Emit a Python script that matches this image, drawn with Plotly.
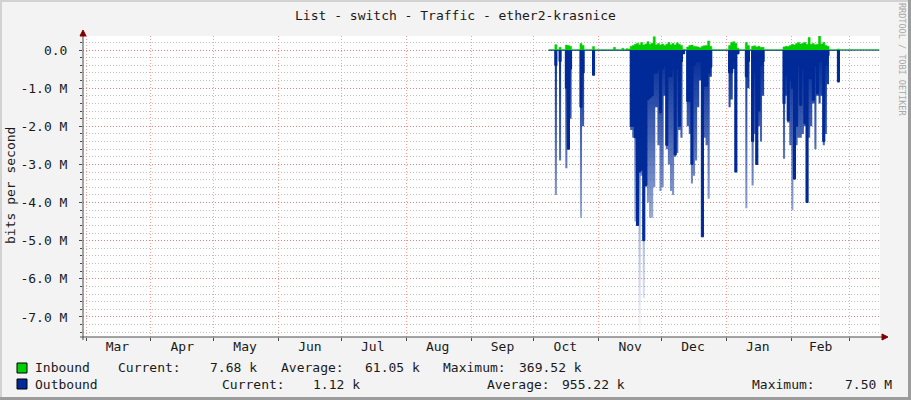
"""RRDtool-style yearly traffic graph for ether2-krasnice, redrawn with Plotly."""

import datetime as dt

import plotly.graph_objects as go

# ---- data: one value per day starting 2013-10-08, Mbit/s ----
start_day = dt.date(2013, 10, 8)

inbound_m = [
    0.005, 0.005, 0.005, 0.14, 0.01, 0.07, 0.005, 0.005, 0.13, 0.12,
    0.10, 0.005, 0.005, 0.005, 0.005, 0.17, 0.12, 0.005, 0.005, 0.005,
    0.005, 0.09, 0.005, 0.005, 0.005, 0.005, 0.005, 0.005, 0.005, 0.005,
    0.005, 0.07, 0.005, 0.005, 0.005, 0.045, 0.005, 0.035, 0.03, 0.10,
    0.12, 0.15, 0.18, 0.14, 0.20, 0.13, 0.16, 0.22, 0.15, 0.18,
    0.35, 0.14, 0.17, 0.13, 0.16, 0.12, 0.15, 0.20, 0.14, 0.17,
    0.13, 0.19, 0.15, 0.12, 0.02, 0.005, 0.08, 0.12, 0.13, 0.10,
    0.09, 0.08, 0.06, 0.10, 0.11, 0.12, 0.24, 0.10, 0.005, 0.005,
    0.005, 0.005, 0.005, 0.005, 0.005, 0.005, 0.12, 0.20, 0.22, 0.18,
    0.05, 0.005, 0.005, 0.005, 0.20, 0.12, 0.005, 0.10, 0.11, 0.08,
    0.10, 0.07, 0.07, 0.005, 0.005, 0.005, 0.005, 0.005, 0.005, 0.005,
    0.005, 0.005, 0.08, 0.10, 0.09, 0.12, 0.15, 0.13, 0.17, 0.20,
    0.16, 0.18, 0.20, 0.15, 0.33, 0.15, 0.17, 0.14, 0.15, 0.37,
    0.16, 0.20, 0.12, 0.10, 0.005, 0.005, 0.005, 0.005, 0.03, 0.008,
    0.008, 0.008, 0.008, 0.008, 0.008, 0.008, 0.008, 0.008, 0.008, 0.008,
    0.008, 0.008, 0.008, 0.008, 0.008, 0.008, 0.008, 0.008, 0.00768,
]

# outbound, daily average (drawn solid) and daily peak (drawn faded)
outbound_avg_m = [
    0.004, 0.004, 0.004, 0.40, 0.004, 0.30, 0.004, 0.004, 1.00, 2.60,
    0.50, 0.004, 0.004, 0.004, 0.004, 1.50, 0.60, 0.004, 0.004, 0.004,
    0.004, 0.66, 0.004, 0.004, 0.004, 0.004, 0.004, 0.004, 0.004, 0.004,
    0.004, 0.004, 0.004, 0.004, 0.004, 0.004, 0.004, 0.004, 0.004, 2.00,
    2.00, 2.30, 4.60, 3.20, 3.15, 5.00, 3.55, 1.30, 1.25, 1.20,
    0.60, 0.60, 0.50, 1.65, 0.50, 0.40, 2.50, 0.70, 0.70, 0.50,
    2.75, 0.50, 2.00, 0.30, 0.10, 0.004, 1.35, 1.35, 3.00, 0.40,
    0.30, 0.30, 0.30, 4.90, 0.95, 0.95, 0.60, 0.45, 0.004, 0.004,
    0.004, 0.004, 0.004, 0.004, 0.004, 0.004, 0.60, 0.60, 0.30, 3.20,
    0.10, 0.004, 0.004, 0.004, 0.70, 0.30, 0.004, 2.40, 0.60, 3.00,
    1.60, 0.40, 0.30, 0.004, 0.004, 0.004, 0.004, 0.004, 0.004, 0.004,
    0.004, 0.004, 1.40, 0.66, 1.85, 0.80, 1.00, 3.38, 2.00, 0.40,
    1.45, 0.50, 1.93, 4.00, 0.75, 0.75, 1.32, 0.40, 1.14, 0.30,
    0.30, 2.40, 0.40, 0.15, 0.004, 0.004, 0.004, 0.004, 0.83, 0.002,
    0.002, 0.002, 0.002, 0.002, 0.002, 0.002, 0.002, 0.002, 0.002, 0.002,
    0.002, 0.002, 0.002, 0.002, 0.002, 0.002, 0.002, 0.002, 0.00112,
]

outbound_max_m = [
    0.004, 0.004, 0.004, 3.80, 0.004, 2.90, 0.004, 0.004, 3.10, 2.60,
    1.80, 0.004, 0.004, 0.004, 0.004, 4.40, 2.00, 0.004, 0.004, 0.004,
    0.004, 0.66, 0.004, 0.004, 0.004, 0.004, 0.004, 0.004, 0.004, 0.004,
    0.004, 0.004, 0.004, 0.004, 0.004, 0.004, 0.004, 0.004, 0.004, 2.10,
    2.30, 4.50, 4.60, 7.50, 3.30, 6.50, 3.60, 4.00, 4.40, 4.40,
    3.60, 1.50, 2.50, 3.70, 3.60, 1.20, 2.60, 3.00, 3.70, 3.80,
    2.80, 2.70, 2.10, 2.30, 0.10, 0.004, 2.00, 2.20, 3.50, 3.30,
    2.90, 1.50, 0.80, 4.90, 2.30, 2.50, 3.90, 0.70, 0.004, 0.004,
    0.004, 0.004, 0.004, 0.004, 0.004, 0.004, 1.50, 1.30, 0.50, 3.20,
    0.10, 0.004, 0.004, 0.004, 4.15, 1.00, 0.004, 3.55, 2.20, 3.00,
    2.00, 2.40, 1.20, 0.004, 0.004, 0.004, 0.004, 0.004, 0.004, 0.004,
    0.004, 0.004, 2.85, 1.20, 1.90, 2.50, 4.20, 3.40, 2.50, 2.30,
    2.30, 2.20, 2.00, 4.00, 2.30, 2.00, 1.40, 2.60, 1.20, 1.40,
    1.20, 2.50, 2.20, 0.90, 0.004, 0.004, 0.004, 0.004, 0.85, 0.002,
    0.002, 0.002, 0.002, 0.002, 0.002, 0.002, 0.002, 0.002, 0.002, 0.002,
    0.002, 0.002, 0.002, 0.002, 0.002, 0.002, 0.002, 0.002, 0.00112,
]

y_tick_vals_m = [0, -1, -2, -3, -4, -5, -6, -7]
y_tick_text = ["0.0", "-1.0 M", "-2.0 M", "-3.0 M", "-4.0 M", "-5.0 M", "-6.0 M", "-7.0 M"]

month_starts = [
    "2013-03-01", "2013-04-01", "2013-05-01", "2013-06-01", "2013-07-01",
    "2013-08-01", "2013-09-01", "2013-10-01", "2013-11-01", "2013-12-01",
    "2014-01-01", "2014-02-01", "2014-03-01",
]
month_labels = ["Mar", "Apr", "May", "Jun", "Jul", "Aug", "Sep",
                "Oct", "Nov", "Dec", "Jan", "Feb"]

legend_inbound = ["Inbound", "Current:", "7.68 k", "Average:", "61.05 k", "Maximum:", "369.52 k"]
legend_outbound = ["Outbound", "Current:", "1.12 k", "Average:", "955.22 k", "Maximum:", "7.50 M"]

GREEN = "#00CF00"
BLUE = "#002A97"
FONT = "DejaVu Sans Mono"

# ---- geometry helpers (pixel -> paper) ----
W, H = 911, 400
L, R, T, B = 83, 31, 36, 63
PW, PH = W - L - R, H - T - B


def px(x):
    return (x - L) / PW


def py(y):
    return (H - B - y) / PH


days = [start_day + dt.timedelta(days=i) for i in range(len(inbound_m))]

# label each month at its middle, grid at month starts
starts = [dt.date.fromisoformat(s) for s in month_starts]
month_mids = [a + (b - a) / 2 for a, b in zip(starts[:-1], starts[1:])]

fig = go.Figure()

fig.add_trace(go.Scatter(
    x=days,
    y=[-v * 1e6 for v in outbound_max_m],
    mode="lines",
    line=dict(width=0, shape="hv", color=BLUE),
    fill="tozeroy",
    fillgradient=dict(
        type="vertical",
        start=-7.5e6,
        stop=0,
        colorscale=[
            [0.0, "rgba(0,42,151,0.03)"],
            [0.35, "rgba(0,42,151,0.32)"],
            [0.7, "rgba(0,42,151,0.72)"],
            [1.0, "rgba(0,42,151,1.0)"],
        ],
    ),
    hoverinfo="skip",
))

fig.add_trace(go.Scatter(
    x=days,
    y=[-v * 1e6 for v in outbound_avg_m],
    mode="lines",
    name="Outbound",
    line=dict(width=1, shape="hv", color=BLUE),
    fill="tozeroy",
    fillcolor=BLUE,
))

fig.add_trace(go.Scatter(
    x=days,
    y=[v * 1e6 for v in inbound_m],
    mode="lines",
    name="Inbound",
    line=dict(width=0.5, shape="hv", color=GREEN),
    fill="tozeroy",
    fillcolor=GREEN,
))

axis_col = "#4a4a4a"
arrow_col = "#7F0000"

shapes = [
    # frame shading
    dict(type="rect", xref="paper", yref="paper", x0=px(0), x1=px(911), y0=py(2), y1=py(0),
         fillcolor="#d2d2d2", line_width=0, layer="below"),
    dict(type="rect", xref="paper", yref="paper", x0=px(0), x1=px(2), y0=py(400), y1=py(0),
         fillcolor="#d2d2d2", line_width=0, layer="below"),
    dict(type="rect", xref="paper", yref="paper", x0=px(908), x1=px(911), y0=py(400), y1=py(0),
         fillcolor="#9c9c9c", line_width=0, layer="below"),
    dict(type="rect", xref="paper", yref="paper", x0=px(0), x1=px(911), y0=py(400), y1=py(397),
         fillcolor="#9c9c9c", line_width=0, layer="below"),
    # axes
    dict(type="line", xref="paper", yref="paper", x0=px(83), x1=px(83), y0=py(340), y1=py(33),
         line=dict(color=axis_col, width=1)),
    dict(type="line", xref="paper", yref="paper", x0=px(80), x1=px(884), y0=py(337), y1=py(337),
         line=dict(color=axis_col, width=1)),
    # arrow heads
    dict(type="path", xref="paper", yref="paper", fillcolor=arrow_col, line=dict(color=arrow_col, width=1),
         path=f"M {px(80)},{py(36)} L {px(86)},{py(36)} L {px(83)},{py(30)} Z"),
    dict(type="path", xref="paper", yref="paper", fillcolor=arrow_col, line=dict(color=arrow_col, width=1),
         path=f"M {px(882)},{py(334)} L {px(882)},{py(340)} L {px(888)},{py(337)} Z"),
    # legend swatches
    dict(type="rect", xref="paper", yref="paper", x0=px(17), x1=px(27), y0=py(373), y1=py(363),
         fillcolor=GREEN, line=dict(color="#000000", width=1)),
    dict(type="rect", xref="paper", yref="paper", x0=px(17), x1=px(27), y0=py(389), y1=py(379),
         fillcolor=BLUE, line=dict(color="#000000", width=1)),
]

annotations = [
    dict(text="bits per second", xref="paper", yref="paper", x=px(10), y=py(186),
         xanchor="center", yanchor="middle", textangle=-90, showarrow=False,
         font=dict(size=13, family=FONT, color="#1a1a1a")),
    dict(text="RRDTOOL / TOBI OETIKER", xref="paper", yref="paper", x=px(902), y=py(60),
         xanchor="center", yanchor="middle", textangle=90, showarrow=False,
         font=dict(size=8.5, family=FONT, color="#a8a8a8")),
]

# legend rows: (left edge or right edge in px, anchor)
row1_pos = [(33, "left"), (116, "left"), (259, "right"), (279, "left"),
            (422, "right"), (441, "left"), (584, "right")]
row2_pos = [(33, "left"), (220, "left"), (362, "right"), (485, "left"),
            (627, "right"), (750, "left"), (894, "right")]
for items, pos, ypix in ((legend_inbound, row1_pos, 368), (legend_outbound, row2_pos, 384)):
    for text, (xpix, anchor) in zip(items, pos):
        annotations.append(dict(
            text=text, xref="paper", yref="paper", x=px(xpix), y=py(ypix),
            xanchor=anchor, yanchor="middle", showarrow=False,
            font=dict(size=13, family=FONT, color="#1a1a1a"),
        ))

fig.update_layout(
    width=W,
    height=H,
    margin=dict(l=L, r=R, t=T, b=B),
    paper_bgcolor="#F3F3F3",
    plot_bgcolor="#FFFFFF",
    showlegend=False,
    font=dict(family=FONT, size=13, color="#1a1a1a"),
    title=dict(
        text="List - switch - Traffic - ether2-krasnice",
        x=0.5, xref="container", xanchor="center",
        y=1 - 15 / H, yref="container", yanchor="middle",
        font=dict(size=13, family=FONT, color="#1a1a1a"),
    ),
    shapes=shapes,
    annotations=annotations,
)

fig.update_xaxes(
    type="date",
    range=["2013-02-27 13:36", "2014-03-15 08:38"],
    tickvals=month_mids,
    ticktext=month_labels,
    ticks="",
    showgrid=False,
    zeroline=False,
    showline=False,
    tickfont=dict(size=13, family=FONT),
    minor=dict(
        tickvals=month_starts,
        ticks="outside",
        ticklen=3,
        tickcolor=axis_col,
        showgrid=True,
        gridcolor="rgba(255,80,80,0.55)",
        griddash="1px,2px",
        gridwidth=1,
    ),
)

fig.update_yaxes(
    range=[-7.526e6, 0.368e6],
    tickvals=[v * 1e6 for v in y_tick_vals_m],
    ticktext=y_tick_text,
    ticks="outside",
    ticklen=3,
    tickcolor=axis_col,
    ticklabelstandoff=9,
    showgrid=True,
    gridcolor="rgba(255,80,80,0.55)",
    griddash="1px,2px",
    zeroline=False,
    showline=False,
    tickfont=dict(size=13, family=FONT),
    minor=dict(
        dtick=0.2e6,
        tick0=0,
        ticks="outside",
        ticklen=2,
        tickcolor=axis_col,
        showgrid=True,
        gridcolor="rgba(175,175,175,0.8)",
        griddash="1px,2px",
    ),
)

# the page body has a default 8px margin; drop it so the figure fills the window
fig.write_html(
    "out.html",
    config={"displayModeBar": False},
    post_script="document.body.style.margin='0';document.body.style.overflow='hidden';",
)
